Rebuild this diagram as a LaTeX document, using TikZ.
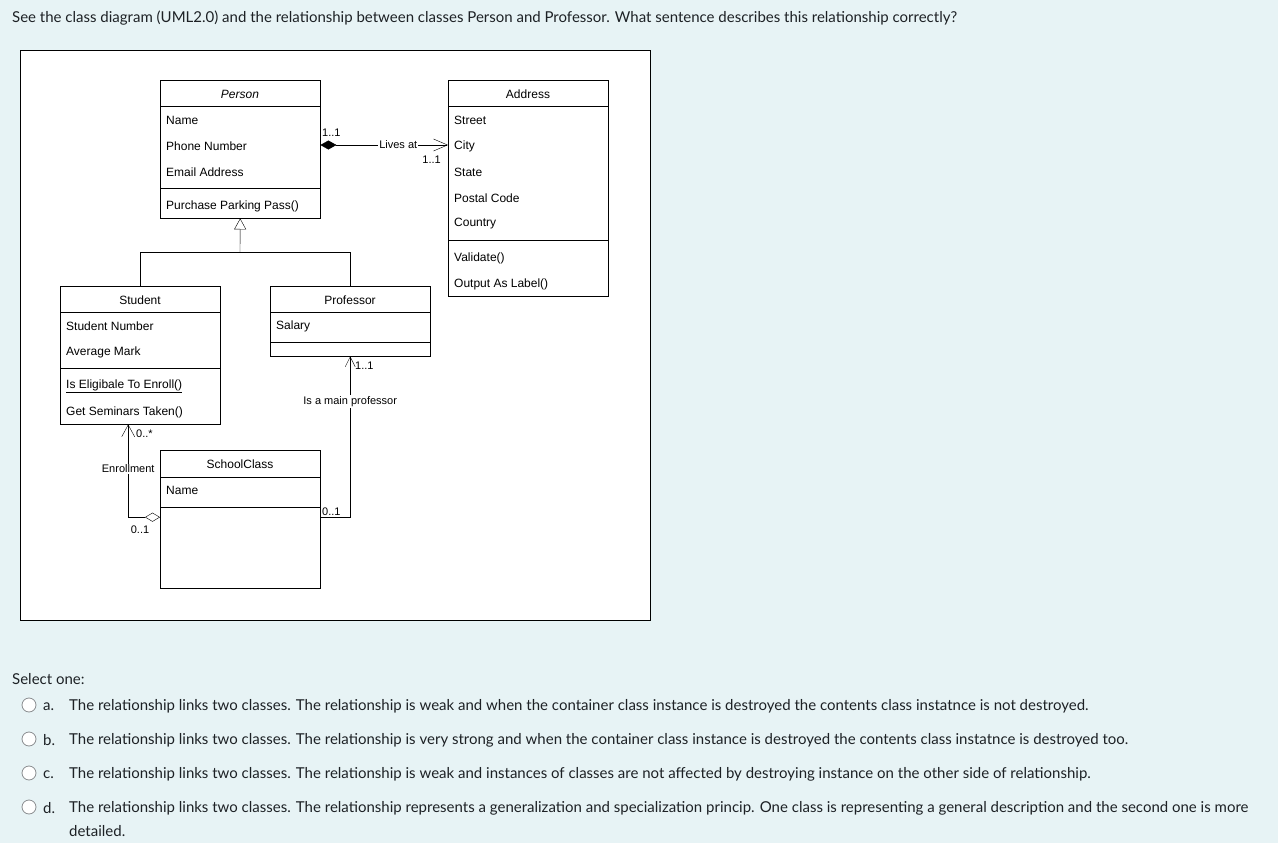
\documentclass[tikz,border=0pt]{standalone}
\usepackage{fontspec}
\setmainfont{Liberation Sans}
\newfontfamily\qfont{Lato}
\usetikzlibrary{arrows.meta}
\definecolor{pagebg}{HTML}{E7F3F5}
\definecolor{qtext}{HTML}{1D2125}
\definecolor{radio}{HTML}{8A8D90}
\begin{document}
\begin{tikzpicture}[x=1pt,y=-1pt,
  cls/.style={draw, fill=white, anchor=north west, inner sep=0, minimum width=160pt},
  attr/.style={anchor=west, inner sep=0, yshift=-1pt, font=\fontsize{12}{14}\selectfont},
  ttl/.style={anchor=center, inner sep=0, yshift=-1pt, font=\fontsize{12}{14}\selectfont},
  lbl/.style={inner sep=0, font=\fontsize{11}{13}\selectfont},
  elbl/.style={inner sep=1pt, fill=white, font=\fontsize{11}{13}\selectfont},
  qtxt/.style={anchor=west, inner sep=0, yshift=-1.5pt, text=qtext, font=\qfont\fontsize{15}{18}\selectfont},
  radiobtn/.style={circle, draw=radio, fill=white, minimum size=14pt, inner sep=0, line width=0.8pt},
]
\fill[pagebg] (0,0) rectangle (1278,843);
\useasboundingbox (0,0) rectangle (1278,843);

% question
\node[qtxt] (q) at (12,17) {See the class diagram (UML2.0) and the relationship between classes Person and Professor. What sentence describes this relationship correctly?};

% panel
\node[draw, fill=white, anchor=north west, inner sep=0, minimum width=630pt, minimum height=570pt] (panel) at (20,50) {};

% Person
\node[cls, minimum height=138pt] (person) at (160,80) {};
\draw (160,106) -- (320,106);
\draw (160,188) -- (320,188);
\node[ttl, font=\fontsize{12}{14}\selectfont\itshape] (persont) at (240,93) {Person};
\node[attr] (pname) at (166,119) {Name};
\node[attr] (phone) at (166,145) {Phone Number};
\node[attr] (email) at (166,171) {Email Address};
\node[attr] (ppp) at (166,205) {Purchase Parking Pass()};

% Address
\node[cls, minimum height=216pt] (address) at (448,80) {};
\draw (448,106) -- (608,106);
\draw (448,240) -- (608,240);
\node[ttl] (addresst) at (528,93) {Address};
\node[attr] (street) at (454,119) {Street};
\node[attr] (city) at (454,145) {City};
\node[attr] (state) at (454,171) {State};
\node[attr] (postal) at (454,197) {Postal Code};
\node[attr] (country) at (454,223) {Country};
\node[attr] (validate) at (454,257) {Validate()};
\node[attr] (outlabel) at (454,283) {Output As Label()};

% Student
\node[cls, minimum height=138pt] (student) at (60,286) {};
\draw (60,312) -- (220,312);
\draw (60,368) -- (220,368);
\node[ttl] (studentt) at (140,299) {Student};
\node[attr] (snum) at (66,325) {Student Number};
\node[attr] (avg) at (66,351) {Average Mark};
\node[attr] (elig) at (66,385) {\underline{Is Eligibale To Enroll()}};
\node[attr] (sem) at (66,411) {Get Seminars Taken()};

% Professor
\node[cls, minimum height=70pt] (professor) at (270,286) {};
\draw (270,312) -- (430,312);
\draw (270,342) -- (430,342);
\node[ttl] (professort) at (350,299) {Professor};
\node[attr] (salary) at (276,325) {Salary};

% SchoolClass
\node[cls, minimum height=138pt] (school) at (160,450) {};
\draw (160,477) -- (320,477);
\draw (160,507) -- (320,507);
\node[ttl] (schoolt) at (240,463) {SchoolClass};
\node[attr] (sname) at (166,489) {Name};

% generalization
\coordinate (gen) at (240,252);
\draw[-{Triangle[open,length=11pt,width=12pt]}] (gen) -- (person.south);
\draw (student.north) |- (professor.north |- gen) -- (professor.north);

% composition Person -> Address
\draw[{Diamond[length=16pt,width=9pt]}-{Straight Barb[length=14pt,width=12pt]}] (person.east |- 0,145) -- (address.west |- 0,145)
  node[elbl, pos=0.61] (livesat) {Lives at};
\node[lbl, anchor=west] (m1) at (322,133) {1..1};
\node[lbl, anchor=east] (m2) at (441,160) {1..1};

% Enrollment (aggregation)
\draw[{Diamond[open,fill=white,length=15pt,width=9pt]}-{Straight Barb[length=12pt,width=13pt]}] ([yshift=2pt]school.west) -| ([xshift=-12pt]student.south)
  node[elbl, pos=0.76] (enroll) {Enrollment};
\node[lbl, anchor=west] (m3) at (136,434) {0..*};
\node[lbl] (m4) at (140,530) {0..1};

% main professor association
\draw[-{Straight Barb[length=10pt,width=10pt]}] ([yshift=2pt]school.east) -| (professor.south)
  node[elbl, pos=0.86] (mainprof) {Is a main professor};
\node[lbl, anchor=west] (m5) at (355,366) {1..1};
\node[lbl, anchor=west] (m6) at (322,512) {0..1};

% answers
\node[qtxt] (sel) at (12,678) {Select one:};
\node[radiobtn] (ra) at (29,705) {};
\node[radiobtn] (rb) at (29,739) {};
\node[radiobtn] (rc) at (29,773) {};
\node[radiobtn] (rd) at (29,807) {};
\node[qtxt] (la) at (43,705) {a.};
\node[qtxt] (lb) at (43,739) {b.};
\node[qtxt] (lc) at (43,773) {c.};
\node[qtxt] (ld) at (43,807) {d.};
\node[qtxt] (ta) at (69,705) {The relationship links two classes. The relationship is weak and when the container class instance is destroyed the contents class instatnce is not destroyed.};
\node[qtxt] (tb) at (69,739) {The relationship links two classes. The relationship is very strong and when the container class instance is destroyed the contents class instatnce is destroyed too.};
\node[qtxt] (tc) at (69,773) {The relationship links two classes. The relationship is weak and instances of classes are not affected by destroying instance on the other side of relationship.};
\node[qtxt] (td) at (69,807) {The relationship links two classes. The relationship represents a generalization and specialization princip. One class is representing a general description and the second one is more};
\node[qtxt] (td2) at (69,830) {detailed.};
\end{tikzpicture}
\end{document}
